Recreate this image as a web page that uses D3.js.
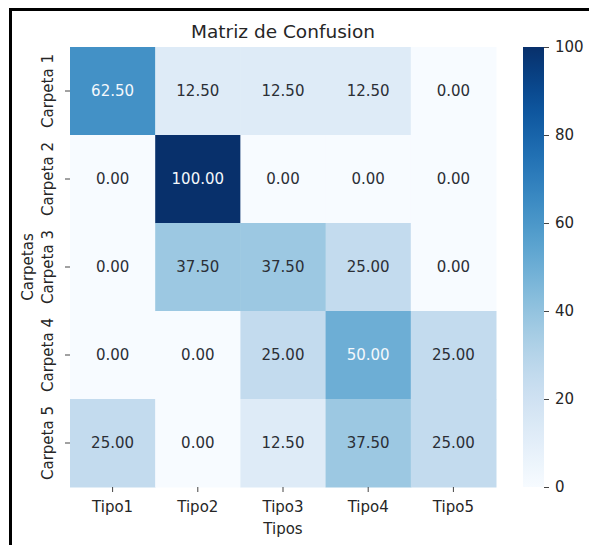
<!doctype html>
<html lang="es">
<head>
<meta charset="utf-8">
<script src="https://d3js.org/d3.v7.min.js"></script>
<style>
  body { margin: 0; background: #fff; }
  text { font-family: "DejaVu Sans", sans-serif; }
</style>
</head>
<body>
<div id="chart"></div>
<script>
// data
var rows = ["Carpeta 1", "Carpeta 2", "Carpeta 3", "Carpeta 4", "Carpeta 5"];
var cols = ["Tipo1", "Tipo2", "Tipo3", "Tipo4", "Tipo5"];
var carpeta1 = [62.5, 12.5, 12.5, 12.5, 0];
var carpeta2 = [0, 100, 0, 0, 0];
var carpeta3 = [0, 37.5, 37.5, 25, 0];
var carpeta4 = [0, 0, 25, 50, 25];
var carpeta5 = [25, 0, 12.5, 37.5, 25];
var matrix = [carpeta1, carpeta2, carpeta3, carpeta4, carpeta5];
var cbarTicks = [0, 20, 40, 60, 80, 100];

var W = 589, H = 545;
var hm = {left: 70, top: 47, right: 496, bottom: 487};
var cb = {left: 523, right: 544};
var fs = "15px";

var svg = d3.select("#chart").append("svg")
  .attr("width", W).attr("height", H);

// frame of the screenshot
svg.append("path")
  .attr("d", "M10.5," + H + " L10.5,9.5 L" + W + ",9.5")
  .attr("fill", "none").attr("stroke", "#000").attr("stroke-width", 3);

var x = d3.scaleBand().domain(cols).range([hm.left, hm.right]);
var y = d3.scaleBand().domain(rows).range([hm.top, hm.bottom]);
var color = d3.scaleSequential(d3.interpolateBlues).domain([0, 100]);

var cells = [];
matrix.forEach(function(r, i) {
  r.forEach(function(v, j) { cells.push({row: rows[i], col: cols[j], v: v}); });
});

svg.append("g").selectAll("rect")
  .data(cells).enter().append("rect")
  .attr("x", function(d) { return x(d.col); })
  .attr("y", function(d) { return y(d.row); })
  .attr("width", x.bandwidth() + 0.5)
  .attr("height", y.bandwidth() + 0.5)
  .attr("fill", function(d) { return color(d.v); });

svg.append("g").selectAll("text")
  .data(cells).enter().append("text")
  .attr("x", function(d) { return x(d.col) + x.bandwidth() / 2; })
  .attr("y", function(d) { return y(d.row) + y.bandwidth() / 2; })
  .attr("dy", "0.35em")
  .attr("text-anchor", "middle")
  .style("font-size", fs)
  .attr("fill", function(d) { return d.v >= 50 ? "#f4f8fc" : "#2b2f36"; })
  .text(function(d) { return d.v.toFixed(2); });

// axes
var xAxis = svg.append("g")
  .attr("transform", "translate(0," + hm.bottom + ")")
  .call(d3.axisBottom(x).tickSize(5).tickPadding(9));
xAxis.select(".domain").remove();
xAxis.selectAll("text").style("font-size", fs).attr("fill", "#262626")
  .style("font-family", "DejaVu Sans, sans-serif");
xAxis.selectAll("line").attr("stroke", "#444");

var yAxis = svg.append("g")
  .attr("transform", "translate(" + hm.left + ",0)")
  .call(d3.axisLeft(y).tickSize(5).tickPadding(4));
yAxis.select(".domain").remove();
yAxis.selectAll("line").attr("stroke", "#444");
yAxis.selectAll("text")
  .style("font-size", fs).attr("fill", "#262626")
  .style("font-family", "DejaVu Sans, sans-serif")
  .attr("text-anchor", "middle")
  .attr("x", 0)
  .attr("transform", "translate(-22,0) rotate(-90)")
  .attr("y", 0).attr("dy", "0.35em");

// labels
svg.append("text")
  .attr("x", (hm.left + hm.right) / 2).attr("y", 38)
  .attr("text-anchor", "middle").style("font-size", "18.5px").attr("fill", "#262626")
  .text("Matriz de Confusion");

svg.append("text")
  .attr("x", (hm.left + hm.right) / 2).attr("y", 534)
  .attr("text-anchor", "middle").style("font-size", fs).attr("fill", "#262626")
  .text("Tipos");

svg.append("text")
  .attr("transform", "translate(33," + (hm.top + hm.bottom) / 2 + ") rotate(-90)")
  .attr("text-anchor", "middle").style("font-size", fs).attr("fill", "#262626")
  .text("Carpetas");

// colorbar
var defs = svg.append("defs");
var grad = defs.append("linearGradient").attr("id", "cbar")
  .attr("x1", 0).attr("y1", 1).attr("x2", 0).attr("y2", 0);
d3.range(0, 1.0001, 0.05).forEach(function(t) {
  grad.append("stop").attr("offset", t).attr("stop-color", color(t * 100));
});
svg.append("rect")
  .attr("x", cb.left).attr("y", hm.top)
  .attr("width", cb.right - cb.left).attr("height", hm.bottom - hm.top)
  .attr("fill", "url(#cbar)");

var cy = d3.scaleLinear().domain([0, 100]).range([hm.bottom, hm.top]);
var cAxis = svg.append("g")
  .attr("transform", "translate(" + cb.right + ",0)")
  .call(d3.axisRight(cy).tickValues(cbarTicks).tickSize(5).tickPadding(6));
cAxis.select(".domain").remove();
cAxis.selectAll("line").attr("stroke", "#444");
cAxis.selectAll("text").style("font-size", fs).attr("fill", "#262626")
  .style("font-family", "DejaVu Sans, sans-serif");
</script>
</body>
</html>
